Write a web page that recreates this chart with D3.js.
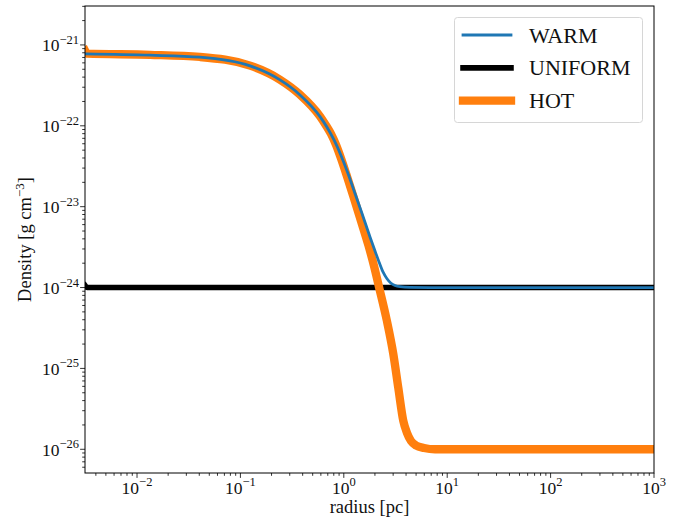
<!DOCTYPE html>
<html>
<head>
<meta charset="utf-8">
<script src="https://cdn.jsdelivr.net/npm/d3@7"></script>
<style>
  html, body { margin: 0; padding: 0; background: #fff; }
  svg { display: block; }
  text { font-family: "Liberation Serif", "Times New Roman", serif; fill: #111; }
</style>
</head>
<body>
<svg id="chart" width="694" height="521"></svg>
<script>
// Density profiles versus radius (pc, g cm^-3)
const warmRadius  = [0.00314, 0.0134, 0.0406, 0.124, 0.2415, 0.377, 0.589, 0.688, 0.804, 0.9395, 1.098, 1.283, 1.500, 1.792, 2.003, 2.190, 2.393, 2.617, 2.861, 3.128, 3.496, 4.365, 6.82, 1000];
const warmDensity = [7.74e-22, 7.46e-22, 7.05e-22, 5.50e-22, 3.69e-22, 2.41e-22, 1.30e-22, 9.60e-23, 6.68e-23, 4.30e-23, 2.575e-23, 1.457e-23, 8.24e-24, 4.22e-24, 2.834e-24, 2.071e-24, 1.558e-24, 1.284e-24, 1.129e-24, 1.058e-24, 1.023e-24, 1.005e-24, 1e-24, 1e-24];

const uniformRadius  = [0.00314, 0.0033, 1000];
const uniformDensity = [1.06e-24, 1e-24, 1e-24];

const hotRadius  = [0.00314, 0.0033, 0.0134, 0.0406, 0.124, 0.2415, 0.377, 0.589, 0.673, 0.752, 0.841, 0.9395, 1.074, 1.255, 1.466, 1.726, 1.959, 2.190, 2.600, 3.011, 3.366, 3.762, 4.086, 4.467, 4.99, 5.97, 7.62, 1000];
const hotDensity = [8.5e-22, 7.8e-22, 7.55e-22, 7.1e-22, 5.55e-22, 3.72e-22, 2.43e-22, 1.31e-22, 1.010e-22, 7.93e-23, 5.80e-23, 3.95e-23, 2.364e-23, 1.264e-23, 6.66e-24, 3.363e-24, 1.849e-24, 1.017e-24, 3.97e-25, 1.509e-25, 5.73e-26, 2.239e-26, 1.590e-26, 1.266e-26, 1.114e-26, 1.038e-26, 1e-26, 1e-26];

const seriesNames  = ["WARM", "UNIFORM", "HOT"];
const seriesColors = ["#1f77b4", "#000000", "#ff7f0e"];
const seriesWidths = [2.78, 5.56, 8.33];

const xTickExponents = [-2, -1, 0, 1, 2, 3];
const yTickExponents = [-26, -25, -24, -23, -22, -21];

const xDomain = [0.00314, 1000];
const yDomain = [5.09e-27, 3.03e-21];

const svg = d3.select("#chart");
const plot = { left: 85, right: 654, top: 6, bottom: 473 };

const x = d3.scaleLog().domain(xDomain).range([plot.left, plot.right]);
const y = d3.scaleLog().domain(yDomain).range([plot.bottom, plot.top]);

svg.append("defs").append("clipPath").attr("id", "plot-clip")
  .append("rect")
  .attr("x", plot.left).attr("y", plot.top)
  .attr("width", plot.right - plot.left).attr("height", plot.bottom - plot.top);

// Minor and major ticks (outward)
function minorTicks(scale) {
  const [a, b] = scale.domain();
  const out = [];
  for (let e = Math.floor(Math.log10(a)); e <= Math.ceil(Math.log10(b)); e++) {
    for (let m = 1; m <= 9; m++) {
      const v = m * Math.pow(10, e);
      if (v >= a * 0.9999 && v <= b * 1.0001) out.push({ v, major: m === 1 });
    }
  }
  return out;
}

const ticks = svg.append("g").attr("stroke", "#000").attr("stroke-width", 0.8);
minorTicks(x).forEach(t => {
  const px = x(t.v);
  ticks.append("line")
    .attr("x1", px).attr("x2", px)
    .attr("y1", plot.bottom).attr("y2", plot.bottom + (t.major ? 4.9 : 2.8));
});
minorTicks(y).forEach(t => {
  const py = y(t.v);
  ticks.append("line")
    .attr("y1", py).attr("y2", py)
    .attr("x1", plot.left).attr("x2", plot.left - (t.major ? 4.9 : 2.8));
});

// Power-of-ten tick labels
function powerLabel(g, exp, px, py, anchor) {
  const t = g.append("text")
    .attr("x", px).attr("y", py)
    .attr("text-anchor", anchor)
    .style("font-size", "17.5px");
  t.append("tspan").text("10");
  t.append("tspan")
    .attr("dy", -7.5)
    .style("font-size", "12.5px")
    .text(exp < 0 ? "\u2212" + Math.abs(exp) : String(exp));
}

const labels = svg.append("g");
xTickExponents.forEach(e => powerLabel(labels, e, x(Math.pow(10, e)), 493.5, "middle"));
yTickExponents.forEach(e => powerLabel(labels, e, 79, y(Math.pow(10, e)) + 6.5, "end"));

// Axis titles
svg.append("text")
  .attr("x", (plot.left + plot.right) / 2).attr("y", 513)
  .attr("text-anchor", "middle")
  .style("font-size", "18.5px")
  .text("radius [pc]");

const yTitle = svg.append("text")
  .attr("transform", `translate(30.5, ${(plot.top + plot.bottom) / 2}) rotate(-90)`)
  .attr("text-anchor", "middle")
  .style("font-size", "18.5px");
yTitle.append("tspan").text("Density [g cm");
yTitle.append("tspan").attr("dy", -7).style("font-size", "13px").text("\u22123");
yTitle.append("tspan").attr("dy", 7).text("]");

// Profiles
const line = d3.line()
  .x(d => x(d[0]))
  .y(d => y(d[1]))
  .curve(d3.curveMonotoneX);

const series = [
  { name: "WARM",    r: warmRadius,    rho: warmDensity,    i: 0 },
  { name: "UNIFORM", r: uniformRadius, rho: uniformDensity, i: 1 },
  { name: "HOT",     r: hotRadius,     rho: hotDensity,     i: 2 }
];

const lines = svg.append("g").attr("clip-path", "url(#plot-clip)");
// uniform first, hot over it, warm on top
[1, 2, 0].forEach(k => {
  const s = series[k];
  lines.append("path")
    .datum(d3.zip(s.r, s.rho))
    .attr("fill", "none")
    .attr("stroke", seriesColors[s.i])
    .attr("stroke-width", seriesWidths[s.i])
    .attr("stroke-linecap", "square")
    .attr("stroke-linejoin", "round")
    .attr("d", line);
});

// Frame
svg.append("rect")
  .attr("x", plot.left).attr("y", plot.top)
  .attr("width", plot.right - plot.left).attr("height", plot.bottom - plot.top)
  .attr("fill", "none").attr("stroke", "#000").attr("stroke-width", 1);

// Legend
const legend = svg.append("g");
legend.append("rect")
  .attr("x", 454.5).attr("y", 17.5).attr("width", 188).attr("height", 105)
  .attr("rx", 3).attr("ry", 3)
  .attr("fill", "#fff").attr("fill-opacity", 0.8)
  .attr("stroke", "#d6d6d6").attr("stroke-width", 1);

seriesNames.forEach((name, i) => {
  const cy = 35 + i * 32.85;
  legend.append("line")
    .attr("x1", 463).attr("x2", 511)
    .attr("y1", cy).attr("y2", cy)
    .attr("stroke", seriesColors[i])
    .attr("stroke-width", seriesWidths[i])
    .attr("stroke-linecap", "square");
  legend.append("text")
    .attr("x", 529).attr("y", cy + 7.6)
    .style("font-size", "22px")
    .text(name);
});
</script>
</body>
</html>
